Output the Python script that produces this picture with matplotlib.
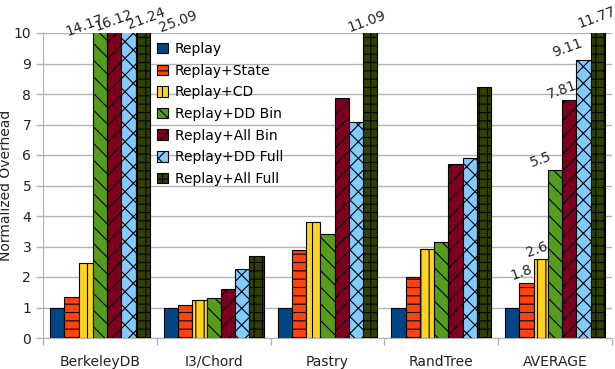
import numpy as np
import matplotlib
matplotlib.use("Agg")
from matplotlib import pyplot as plt

benchmarks = ['BerkeleyDB', 'I3/Chord', 'Pastry', 'RandTree', 'AVERAGE']
series = ['Replay', 'Replay+State', 'Replay+CD', 'Replay+DD Bin',
          'Replay+All Bin', 'Replay+DD Full', 'Replay+All Full']

replay = [1, 1, 1, 1, 1]
replay_state = [1.33, 1.07, 2.88, 1.99, 1.8]
replay_cd = [2.45, 1.25, 3.81, 2.91, 2.6]
replay_dd_bin = [14.17, 1.30, 3.41, 3.15, 5.5]
replay_all_bin = [16.12, 1.60, 7.86, 5.70, 7.81]
replay_dd_full = [21.24, 2.26, 7.07, 5.89, 9.11]
replay_all_full = [25.09, 2.68, 11.09, 8.22, 11.77]

values = [replay, replay_state, replay_cd, replay_dd_bin,
          replay_all_bin, replay_dd_full, replay_all_full]

colors = ['#004586', '#ff420e', '#ffd320', '#579d1c', '#7e0021', '#83caff', '#314004']
hatches = ['', '--', '||', '\\\\', '//', 'xx', '++']

# which bars carry a value label, and the (dx, dy) pixel shift of each label
labelled = {
    (0, 3): (-15, 8), (0, 4): (0, 13), (0, 5): (18, 15), (0, 6): (36, 12),
    (2, 6): (-4, 12),
    (4, 1): (-5, 11), (4, 2): (-4, 9), (4, 3): (-14, 11),
    (4, 4): (-7, 10), (4, 5): (-16, 12), (4, 6): (-1, 16),
}

plt.rcParams['font.family'] = 'DejaVu Sans'
plt.rcParams['hatch.linewidth'] = 0.8

fig = plt.figure(figsize=(6.15, 3.69), dpi=100)
ax = fig.add_axes([43/615, 1-338/369, 569/615, 305/369])

grey = '#b3b3b3'
x = np.arange(len(benchmarks))
width = 0.1253
for i in range(len(series)):
    pos = x + (i - 3) * width
    ax.bar(pos, values[i], width, color=colors[i], hatch=hatches[i],
           edgecolor='black', linewidth=0.8, label=series[i], zorder=3)

for (g, s), (dx, dy) in labelled.items():
    v = values[s][g]
    px = x[g] + (s - 3) * width
    ax.annotate('%g' % v, xy=(px, min(v, 10)), xytext=(dx * 0.72, dy * 0.72),
                textcoords='offset points', ha='center', va='center',
                rotation=20, fontsize=10, color='#222222', annotation_clip=False)

ax.set_ylim(0, 10)
ax.set_xlim(-0.5, 4.5)
ax.set_yticks(range(0, 11))
ax.yaxis.grid(True, color=grey, linewidth=1, zorder=0)
ax.set_xticks(np.arange(-0.5, 5, 1))
ax.set_xticklabels([])
ax.set_xticks(x, minor=True)
ax.set_xticklabels(benchmarks, minor=True)
ax.tick_params(axis='x', which='major', length=5, color=grey, width=1)
ax.tick_params(axis='x', which='minor', length=0, pad=12, labelsize=10, labelcolor='#222222')
ax.tick_params(axis='y', length=5, color=grey, width=1, labelsize=10, labelcolor='#222222')
for sp in ['top', 'right']:
    ax.spines[sp].set_visible(False)
for sp in ['left', 'bottom']:
    ax.spines[sp].set_color(grey)
ax.set_ylabel('Normalized Overhead', fontsize=10, color='#222222')
ax.yaxis.set_label_coords(-0.052, 0.5)

ax.legend(loc='upper left', bbox_to_anchor=(157/615, 1-42/369),
          bbox_transform=fig.transFigure, frameon=False, borderpad=0,
          borderaxespad=0, handlelength=0.8, handleheight=0.8,
          handletextpad=0.5, labelspacing=0.55, fontsize=10)

fig.savefig('out.png', dpi=100)
